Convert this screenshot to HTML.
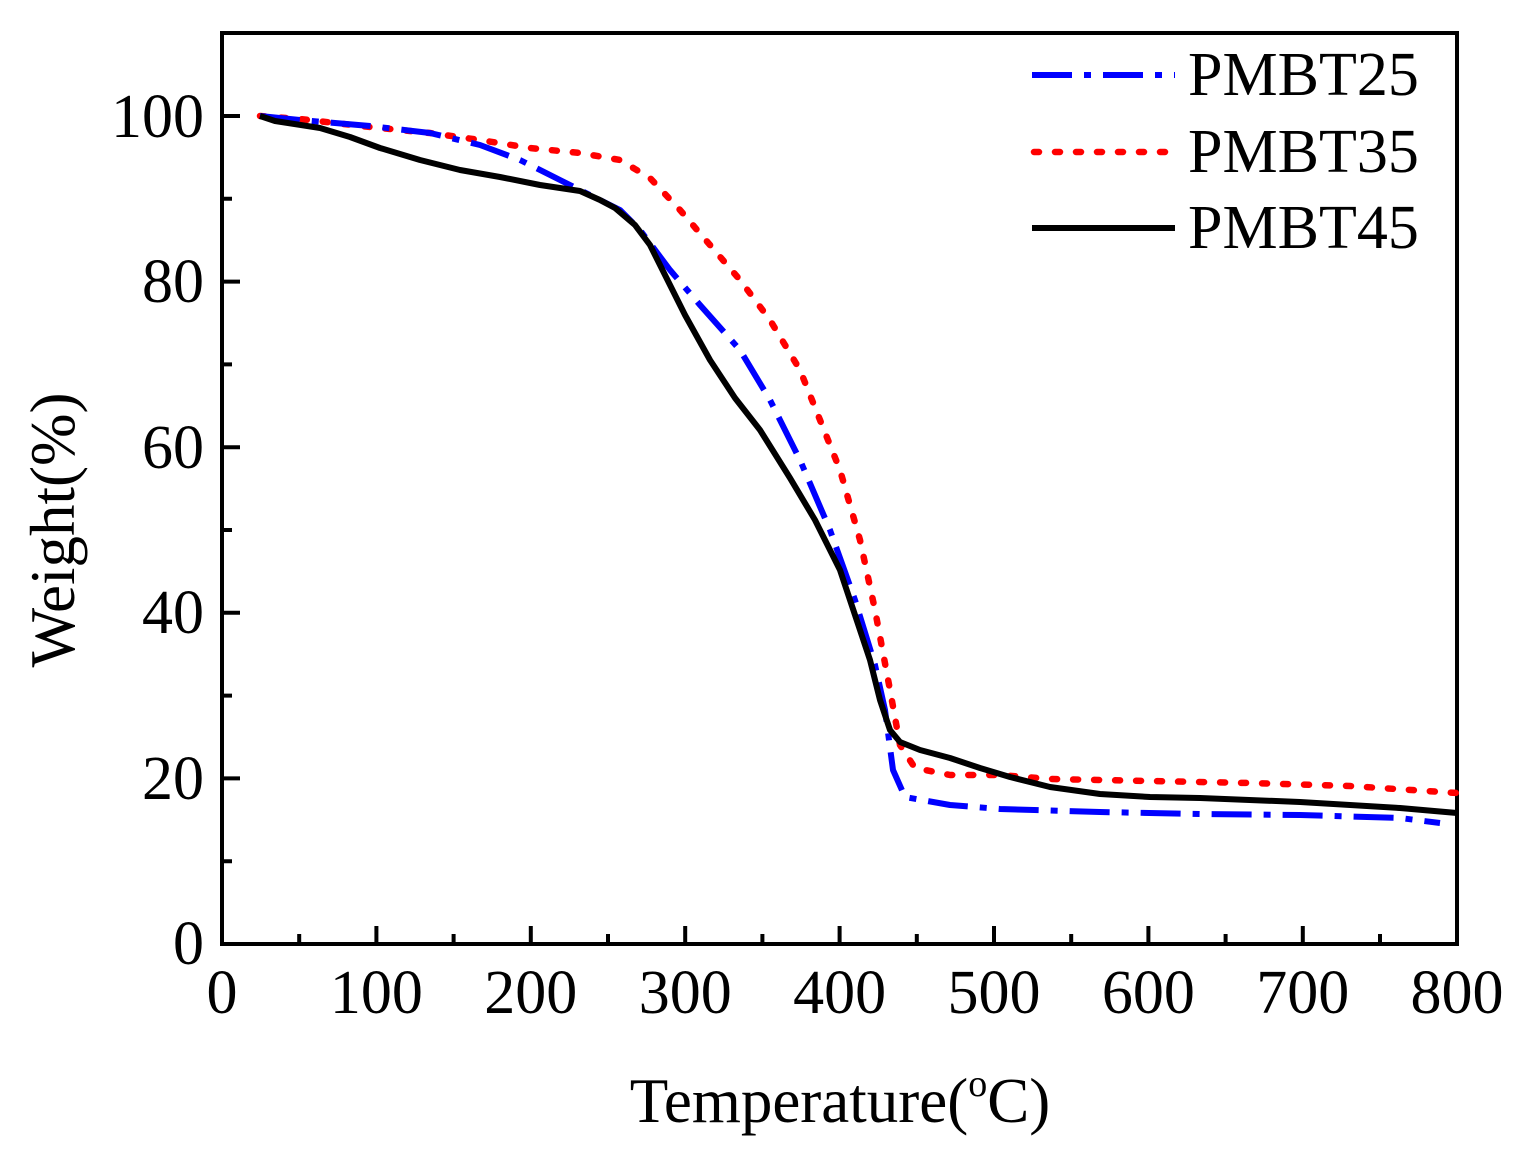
<!DOCTYPE html>
<html><head><meta charset="utf-8"><style>
html,body{margin:0;padding:0;background:#fff;}
svg{display:block;font-family:"Liberation Serif",serif;}
</style></head><body>
<svg width="1521" height="1152" viewBox="0 0 1521 1152" xmlns="http://www.w3.org/2000/svg">
<rect width="1521" height="1152" fill="#fff"/>
<g stroke="#000" stroke-width="4" fill="none">
<rect x="222" y="33" width="1235" height="911"/>
<path d="M376.4 944v-18M530.8 944v-18M685.2 944v-18M839.6 944v-18M994 944v-18M1148.4 944v-18M1302.8 944v-18"/>
<path d="M299.2 944v-10M453.6 944v-10M608 944v-10M762.4 944v-10M916.8 944v-10M1071.2 944v-10M1225.6 944v-10M1380 944v-10"/>
<path d="M222 778.4h18M222 612.8h18M222 447.2h18M222 281.6h18M222 116h18"/>
<path d="M222 861.2h10M222 695.6h10M222 530h10M222 364.4h10M222 198.8h10"/>
</g>
<g font-size="62" fill="#000">
<g text-anchor="end">
<text x="204" y="964">0</text>
<text x="204" y="799">20</text>
<text x="204" y="633">40</text>
<text x="204" y="468">60</text>
<text x="204" y="302">80</text>
<text x="204" y="137">100</text>
</g>
<g text-anchor="middle">
<text x="222" y="1013">0</text>
<text x="376.4" y="1013">100</text>
<text x="530.8" y="1013">200</text>
<text x="685.2" y="1013">300</text>
<text x="839.6" y="1013">400</text>
<text x="994" y="1013">500</text>
<text x="1148.4" y="1013">600</text>
<text x="1302.8" y="1013">700</text>
<text x="1457" y="1013">800</text>
</g>
<text x="840" y="1122" text-anchor="middle" font-size="63">Temperature(<tspan font-size="38" dy="-26">o</tspan><tspan dy="26">C)</tspan></text>
<text transform="translate(74,530) rotate(-90)" text-anchor="middle" font-size="63">Weight(%)</text>
<text x="1188" y="95">PMBT25</text>
<text x="1188" y="172">PMBT35</text>
<text x="1188" y="248">PMBT45</text>
</g>
<g fill="none" stroke-linejoin="round">
<polyline stroke="#f00" stroke-width="6.5" stroke-dasharray="5,16" stroke-linecap="round" points="260,116 300,119 370,127 430,133 480,140 530,148 580,153 620,160 650,178 680,210 710,245 740,280 770,320 800,370 820,420 840,470 860,540 875,610 890,690 900,745 915,768 950,775 1000,775 1050,779 1150,781 1250,783 1350,786 1457,793"/>
<polyline stroke="#00f" stroke-width="6" stroke-dasharray="40,12,7,12" points="260,116 300,120 370,126 430,133 480,145 520,160 560,180 600,200 620,210 640,230 670,270 700,305 740,350 770,400 800,460 830,530 855,600 875,665 885,710 893,770 905,797 950,805 1000,809 1100,812 1200,814 1300,815 1400,818 1440,823"/>
<polyline stroke="#000" stroke-width="6" points="260,116 275,121 320,128 350,137 380,148 420,160 460,170 500,177 540,185 580,191 600,200 615,208 635,225 650,245 665,275 685,315 710,360 735,398 760,430 790,478 815,520 840,570 855,615 870,660 880,700 890,730 900,742 920,750 950,758 980,768 1010,777 1050,787 1100,794 1150,797 1200,798 1300,802 1400,808 1457,813"/>
<line x1="1032" y1="75" x2="1175" y2="75" stroke="#00f" stroke-width="6" stroke-dasharray="40,12,7,12"/>
<line x1="1034" y1="152" x2="1175" y2="152" stroke="#f00" stroke-width="6.5" stroke-dasharray="5,16" stroke-linecap="round"/>
<line x1="1032" y1="228" x2="1175" y2="228" stroke="#000" stroke-width="6"/>
</g>
</svg>
</body></html>
